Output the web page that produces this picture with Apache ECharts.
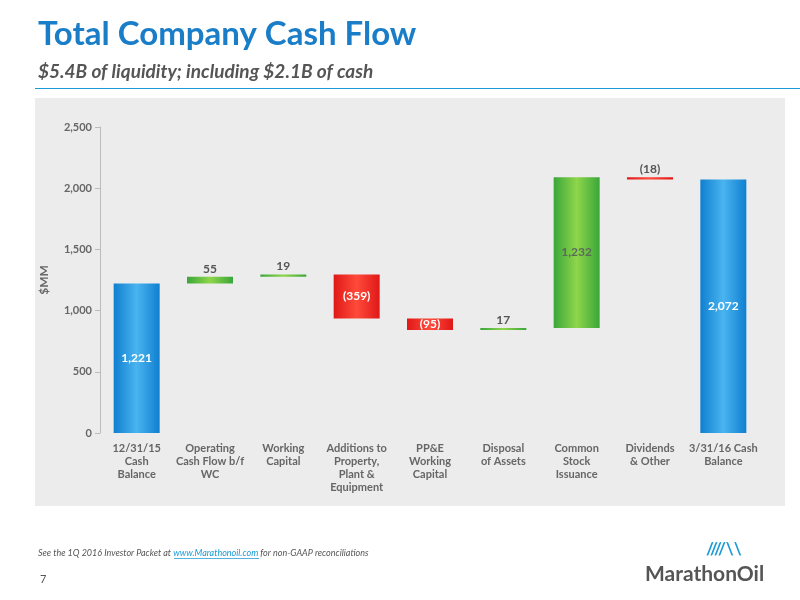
<!DOCTYPE html>
<html><head><meta charset="utf-8">
<script src="https://cdn.jsdelivr.net/npm/echarts@6/dist/echarts.min.js"></script>
<style>html,body{margin:0;padding:0;background:#fff;}#c{width:800px;height:600px;}</style>
</head><body><div id="c"></div>
<script>
const categories = ['12/31/15\nCash\nBalance','Operating\nCash Flow b/f\nWC','Working\nCapital','Additions to\nProperty,\nPlant &\nEquipment','PP&E\nWorking\nCapital','Disposal\nof Assets','Common\nStock\nIssuance','Dividends\n& Other','3/31/16 Cash\nBalance'];
const changes = [1221, 55, 19, -359, -95, 17, 1232, -18, 2072];
const kinds = ['total','delta','delta','delta','delta','delta','delta','delta','total'];
const labels = ['1,221','55','19','(359)','(95)','17','1,232','(18)','2,072'];
const yTicks = [0,500,1000,1500,2000,2500];

const grad = (c1,c2)=>new echarts.graphic.LinearGradient(0,0,1,0,[{offset:0,color:c1},{offset:0.5,color:c2},{offset:1,color:c1}]);
const blue = grad('#0f7fd0','#4ab4f0');
const green = grad('#3aa63a','#8ed64a');
const red = grad('#e01818','#ff4a3a');

let run = 0; const base = [], vis = [];
changes.forEach((v,i)=>{
  if(kinds[i]==='total'){ base.push(0); run=v; vis.push({value:v,itemStyle:{color:blue},label:{color:'#fff',position:'inside'}}); return; }
  const lo = v>=0? run : run+v;
  base.push(lo); run += v;
  const big = Math.abs(v)>80;
  vis.push({value:Math.abs(v),itemStyle:{color:v>=0?green:red},
    label: big? {position:'inside',color: v>=0?'#5a6a5a':'#fff'} : {position:'top',distance:2,color:'#555'}});
});
vis.forEach((d,i)=>d.label.formatter=labels[i]);

const chart = echarts.init(document.getElementById('c'));
chart.setOption({
  animation:false,
  graphic:[
    {type:'text',left:38,top:18,style:{text:'Total Company Cash Flow',font:'bold 33px Lato, sans-serif',fill:'#1a7dc8'}},
    {type:'text',left:38,top:62,style:{text:'$5.4B of liquidity; including $2.1B of cash',font:'italic bold 19px Lato, sans-serif',fill:'#555'}},
    {type:'rect',shape:{x:35,y:88,width:765,height:1},style:{fill:'#1a9ad6'}},
    {type:'rect',z:-10,shape:{x:35,y:98,width:750,height:408},style:{fill:'#ececec'}},
    {type:'text',left:38,top:549,style:{text:'{a|See the 1Q 2016 Investor Packet at }{b|www.Marathonoil.com}{a| for non-GAAP reconciliations}',
      rich:{a:{font:'italic 9px Lato, sans-serif',fill:'#555'},b:{font:'italic 9px Lato, sans-serif',fill:'#1a9ad6'}}}},
    {type:'rect',shape:{x:174,y:558,width:85,height:0.7},style:{fill:'#1a9ad6'}},
    {type:'text',left:40,top:574,style:{text:'7',font:'11px Lato, sans-serif',fill:'#555'}},
    {type:'text',left:645,top:564,style:{text:'MarathonOil',font:'bold 21px Lato, sans-serif',fill:'#555'}},
    {type:'text',left:706,top:541,style:{text:'////\\\\',font:'bold 17px Lato, sans-serif',fill:'#1a9ad6'}}
  ],
  grid:{left:100,right:40,top:127,height:306},
  xAxis:{type:'category',data:categories,axisLine:{show:false},axisTick:{show:false},
    axisLabel:{interval:0,color:'#666',fontSize:11,fontFamily:'Lato',fontWeight:'bold',lineHeight:13,margin:9}},
  yAxis:{type:'value',min:0,max:2500,interval:500,name:'$MM',nameLocation:'middle',nameGap:50,
    nameTextStyle:{color:'#666',fontSize:12,fontWeight:'bold',fontFamily:'Lato'},
    axisLine:{show:true,lineStyle:{color:'#bbb'}},axisTick:{show:true,lineStyle:{color:'#bbb'}},splitLine:{show:false},
    axisLabel:{color:'#666',fontSize:11,fontWeight:'bold',fontFamily:'Lato',formatter:v=>v.toLocaleString('en-US')}},
  series:[
    {type:'bar',stack:'w',data:base,itemStyle:{color:'transparent'},barWidth:46,silent:true},
    {type:'bar',stack:'w',data:vis,barWidth:46,label:{show:true,fontSize:12,fontWeight:'bold',fontFamily:'Lato'}}
  ]
});
</script></body></html>
